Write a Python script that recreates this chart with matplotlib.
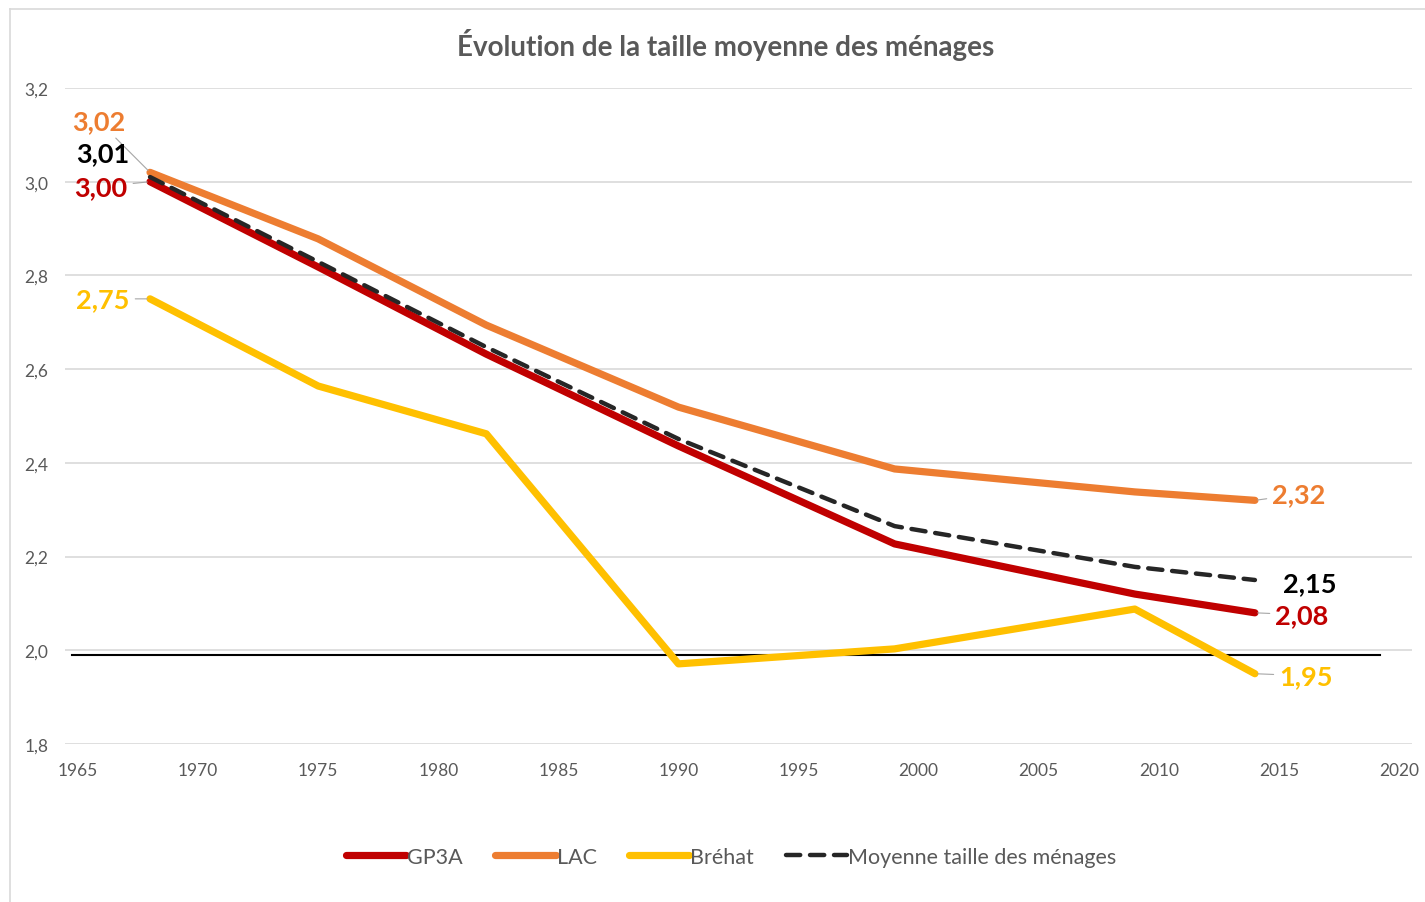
import matplotlib
matplotlib.use("Agg")
import matplotlib.pyplot as plt
from matplotlib.lines import Line2D
from matplotlib.ticker import FuncFormatter, MultipleLocator

plt.rcParams['font.family'] = ['Lato', 'DejaVu Sans']

# census years and household sizes
years = [1968, 1975, 1982, 1990, 1999, 2009, 2014]
gp3a = [3.00, 2.818, 2.632, 2.436, 2.227, 2.12, 2.08]
lac = [3.02, 2.878, 2.694, 2.519, 2.387, 2.338, 2.32]
brehat = [2.75, 2.564, 2.462, 1.971, 2.003, 2.088, 1.95]
moyenne = [3.01, 2.829, 2.647, 2.451, 2.265, 2.178, 2.15]
ref_level = 1.99

names = ["GP3A", "LAC", "Bréhat", "Moyenne taille des ménages"]
colors = ["#C00000", "#ED7D31", "#FFC000", "#262626"]

fig = plt.figure(figsize=(14.25, 9.03), dpi=100)
ax = fig.add_axes([65 / 1425, 1 - 745 / 903, 1347 / 1425, 656 / 903])

# outer chart frame (left and top edges visible)
fig.add_artist(Line2D([10 / 1425, 10 / 1425], [0, 1 - 10 / 903], color="#d9d9d9", lw=1.2))
fig.add_artist(Line2D([10 / 1425, 1], [1 - 10 / 903, 1 - 10 / 903], color="#d9d9d9", lw=1.2))

series = [gp3a, lac, brehat]
for vals, name, c in zip(series, names[:3], colors[:3]):
    ax.plot(years, vals, color=c, lw=5.2, solid_capstyle="round", solid_joinstyle="round",
            label=name, zorder=3)
ax.plot(years, moyenne, color=colors[3], lw=3.2, dashes=(3.2, 2.2), dash_capstyle="round",
        label=names[3], zorder=4)

ax.axhline(ref_level, xmin=0.005, xmax=0.976, color="black", lw=1.5, zorder=2)

ax.set_xlim(1964.46, 2020.54)
ax.set_ylim(1.8, 3.2)
ax.xaxis.set_major_locator(MultipleLocator(5))
ax.yaxis.set_major_locator(MultipleLocator(0.2))
ax.yaxis.set_major_formatter(FuncFormatter(lambda v, p: f"{v:.1f}".replace(".", ",")))
ax.grid(axis="y", color="#d9d9d9", lw=1.2)
ax.set_axisbelow(True)
for s in ax.spines.values():
    s.set_visible(False)
ax.tick_params(axis="both", length=0, labelsize=12.5, labelcolor="#595959")
ax.tick_params(axis="x", pad=13)
ax.tick_params(axis="y", pad=12)

# data labels at first and last points
lead = dict(arrowstyle="-", color="#a6a6a6", lw=0.8, shrinkA=2, shrinkB=2)
first_offsets = [(-49, -5), (-51, 51), (-47, 0), (-47, 24)]
last_offsets = [(47, -2), (44, 6), (51, -2), (55, -3)]
all_vals = [gp3a, lac, brehat, moyenne]
label_colors = ["#C00000", "#ED7D31", "#FFC000", "black"]
for i, vals in enumerate(all_vals):
    for idx, offs in ((0, first_offsets[i]), (-1, last_offsets[i])):
        txt = f"{vals[idx]:.2f}".replace(".", ",")
        arrow = None if i == 3 else lead
        ax.annotate(txt, xy=(years[idx], vals[idx]), xytext=offs, textcoords="offset pixels",
                    ha="center", va="center", fontsize=19.5, fontweight="bold",
                    color=label_colors[i], arrowprops=arrow, zorder=5)

fig.text(0.509, 1 - 45 / 903, "Évolution de la taille moyenne des ménages", ha="center", va="center",
         fontsize=20, fontweight="bold", color="#595959")

fig.legend(loc="center", bbox_to_anchor=(0.513, 1 - 858 / 903), ncol=4, frameon=False,
           fontsize=15.5, labelcolor="#595959", handlelength=2.8, handletextpad=0.05,
           columnspacing=1.5)

fig.savefig("out.png", dpi=100)
